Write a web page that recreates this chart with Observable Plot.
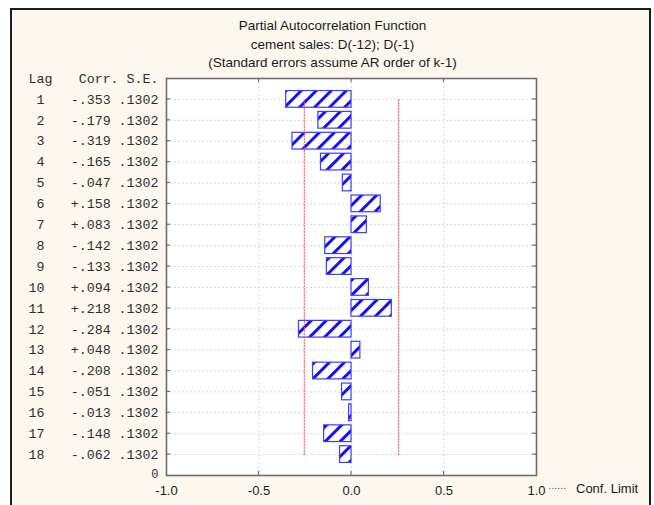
<!DOCTYPE html>
<html>
<head>
<meta charset="utf-8">
<script src="https://cdn.jsdelivr.net/npm/d3@7"></script>
<script src="https://cdn.jsdelivr.net/npm/@observablehq/plot@0.6"></script>
<style>
  html, body { margin: 0; padding: 0; width: 654px; height: 505px; overflow: hidden; background: #ffffff; }
  #panel { position: absolute; left: 10px; top: 8px; width: 637px; height: 520px;
           border: 2px solid #1c1c1c; background: #fdf8ed; }
  #chart { position: absolute; left: 0; top: 0; }
</style>
</head>
<body>
<div id="panel"></div>
<div id="chart"></div>
<script>
// Partial autocorrelations of differenced cement sales, lags 1–18
const lags   = [1, 2, 3, 4, 5, 6, 7, 8, 9, 10, 11, 12, 13, 14, 15, 16, 17, 18];
const corr   = [-0.353, -0.179, -0.319, -0.165, -0.047, 0.158, 0.083, -0.142, -0.133,
                 0.094, 0.218, -0.284, 0.048, -0.208, -0.051, -0.013, -0.148, -0.062];
const stdErr = [0.1302, 0.1302, 0.1302, 0.1302, 0.1302, 0.1302, 0.1302, 0.1302, 0.1302,
                0.1302, 0.1302, 0.1302, 0.1302, 0.1302, 0.1302, 0.1302, 0.1302, 0.1302];
const xTicks = [-1, -0.5, 0, 0.5, 1];
const titleLines = [
  "Partial Autocorrelation Function",
  "cement sales: D(-12); D(-1)",
  "(Standard errors assume AR order of k-1)"
];
const lagHeader = "Lag";
const statHeader = "Corr. S.E.";
const baseLabel = "0";
const legendLabel = "Conf. Limit";
const zCrit = 1.96;

const rows = lags.map((lag, i) => ({lag, corr: corr[i], se: stdErr[i]}));

const fmtCorr = v => (v < 0 ? "-" : "+") + Math.abs(v).toFixed(3).slice(1);
const fmtSe = v => v.toFixed(4).slice(1);
const fmtTick = v => v.toFixed(1);

const sans = "'Liberation Sans', Arial, sans-serif";
const mono = "'Liberation Mono', 'Courier New', monospace";
const ink = "#1a1a1a";
const tableInk = "#2e2e2e";
const axisColor = "#6e6e6e";
const gridColor = "#d9d9d9";
const barStroke = "#3d3dff";
const stripe = "#1212ee";
const limitColor = "#ff5050";

// Diagonal hatch used to fill the bars
function hatchDefs() {
  const g = d3.create("svg:g");
  const p = g.append("defs").append("pattern")
    .attr("id", "pacf-hatch")
    .attr("patternUnits", "userSpaceOnUse")
    .attr("width", 10.6).attr("height", 10.6)
    .attr("patternTransform", "rotate(45)");
  p.append("rect").attr("width", 10.6).attr("height", 10.6).attr("fill", "#ffffff");
  p.append("rect").attr("x", 0).attr("width", 3).attr("height", 10.6).attr("fill", stripe);
  return g.node();
}

// Short inward ticks on all four sides of the plot frame
function innerTicks(index, scales) {
  const x = scales.x, y = scales.y;
  const [L, R] = [x(xTicks[0]), x(xTicks[xTicks.length - 1])];
  const [T, B] = [y(0), y(lags.length + 1)];
  const len = 4;
  const g = d3.create("svg:g").attr("stroke", axisColor).attr("stroke-width", 1.2);
  for (const v of lags) {
    g.append("line").attr("x1", L).attr("x2", L + len).attr("y1", y(v)).attr("y2", y(v));
    g.append("line").attr("x1", R).attr("x2", R - len).attr("y1", y(v)).attr("y2", y(v));
  }
  for (const v of xTicks.slice(1, -1)) {
    g.append("line").attr("x1", x(v)).attr("x2", x(v)).attr("y1", T).attr("y2", T + len);
    g.append("line").attr("x1", x(v)).attr("x2", x(v)).attr("y1", B).attr("y2", B - len);
  }
  return g.node();
}

// Legend entry for the confidence-limit lines, right of the x axis
function limitLegend(index, scales) {
  const R = scales.x(xTicks[xTicks.length - 1]);
  const B = scales.y(lags.length + 1);
  const g = d3.create("svg:g");
  g.append("line")
    .attr("x1", R + 13).attr("x2", R + 31)
    .attr("y1", B + 13.5).attr("y2", B + 13.5)
    .attr("stroke", limitColor).attr("stroke-width", 1)
    .attr("stroke-dasharray", "1.5,1.5");
  g.append("text")
    .attr("x", R + 40).attr("y", B + 14).attr("dy", "0.32em")
    .attr("font-family", sans).attr("font-size", 13).attr("fill", ink)
    .attr("text-anchor", "start")
    .text(legendLabel);
  return g.node();
}

const chart = Plot.plot({
  width: 654,
  height: 505,
  marginLeft: 166,
  marginRight: 118,
  marginTop: 78,
  marginBottom: 30,
  style: {background: "transparent", fontFamily: sans, fontSize: "13px", color: ink, overflow: "visible"},
  x: {domain: [-1, 1], axis: null},
  y: {domain: [0, lags.length + 1], reverse: true, axis: null},
  marks: [
    hatchDefs,
    Plot.frame({fill: "#ffffff", stroke: null}),
    Plot.ruleX(xTicks.slice(1, -1), {stroke: gridColor, strokeDasharray: "2,2", strokeWidth: 1}),
    Plot.ruleY(lags, {stroke: gridColor, strokeDasharray: "2,2", strokeWidth: 1}),
    Plot.rect(rows, {
      x1: 0, x2: "corr",
      y1: d => d.lag - 0.4, y2: d => d.lag + 0.4,
      fill: "url(#pacf-hatch)", stroke: barStroke, strokeWidth: 1.2
    }),
    Plot.line(rows, {x: d => -zCrit * d.se, y: "lag", stroke: limitColor, strokeWidth: 1, strokeDasharray: "1.5,1.5"}),
    Plot.line(rows, {x: d => zCrit * d.se, y: "lag", stroke: limitColor, strokeWidth: 1, strokeDasharray: "1.5,1.5"}),
    Plot.frame({stroke: axisColor, strokeWidth: 1.6}),
    innerTicks,
    // title block
    ...titleLines.map((t, i) => Plot.text([t], {
      frameAnchor: "top", lineAnchor: "middle", dx: -19, dy: -53 + i * 18.7,
      fontFamily: sans, fontSize: 13.5, fill: ink
    })),
    // table to the left of the plot
    Plot.text([lagHeader], {y: () => 0, frameAnchor: "left", lineAnchor: "middle", dx: -138, textAnchor: "start",
      fontFamily: mono, fontSize: 13.3, fill: tableInk}),
    Plot.text([statHeader], {y: () => 0, frameAnchor: "left", lineAnchor: "middle", dx: -8, textAnchor: "end",
      fontFamily: mono, fontSize: 13.3, fill: tableInk}),
    Plot.text(rows, {y: "lag", text: d => String(d.lag), frameAnchor: "left", lineAnchor: "middle", dx: -122, textAnchor: "end",
      fontFamily: mono, fontSize: 13.3, fill: tableInk}),
    Plot.text(rows, {y: "lag", text: d => fmtCorr(d.corr) + " " + fmtSe(d.se), frameAnchor: "left", lineAnchor: "middle", dx: -8, textAnchor: "end",
      fontFamily: mono, fontSize: 13.3, fill: tableInk}),
    Plot.text([baseLabel], {y: () => lags.length + 1, frameAnchor: "left", lineAnchor: "middle", dx: -8, dy: -1, textAnchor: "end",
      fontFamily: mono, fontSize: 12, fill: tableInk}),
    // x tick labels
    Plot.text(xTicks, {x: d => d, text: fmtTick, frameAnchor: "bottom", lineAnchor: "middle", dy: 15,
      fontFamily: sans, fontSize: 13, fill: ink}),
    limitLegend
  ]
});

document.getElementById("chart").appendChild(chart);
</script>
</body>
</html>
